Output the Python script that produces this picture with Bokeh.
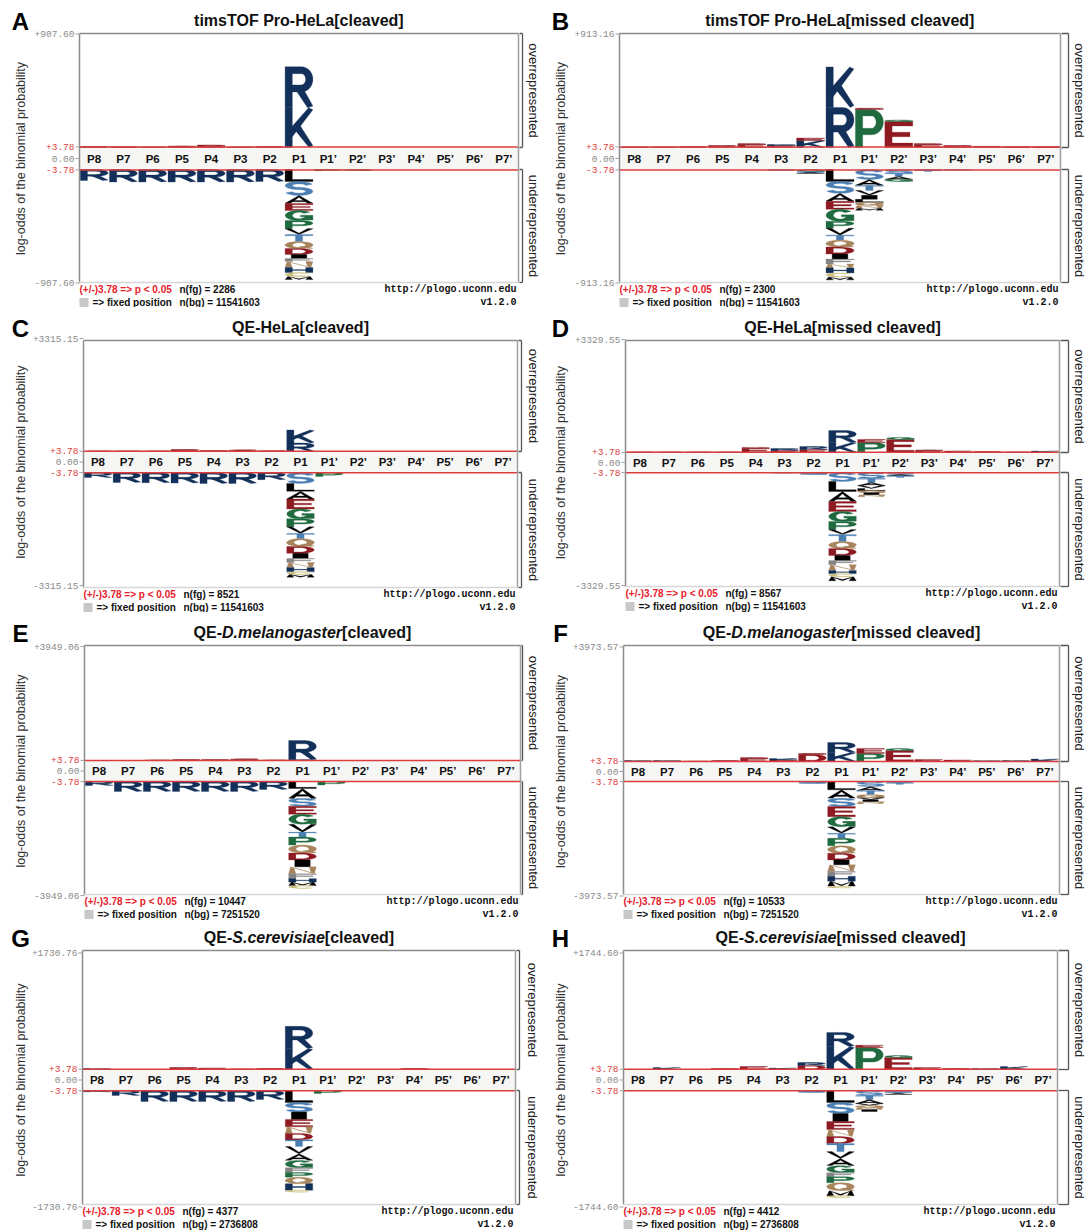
import numpy as np
from bokeh.plotting import figure
from bokeh.layouts import column, row
from bokeh.models import ColumnDataSource, Range1d
from bokeh.core.properties import value
from bokeh.embed import file_html
from bokeh.resources import INLINE

# ---------------------------------------------------------------- data
POS_KEYS = ["P8", "P7", "P6", "P5", "P4", "P3", "P2", "P1",
            "P1'", "P2'", "P3'", "P4'", "P5'", "P6'", "P7'"]
POS_LABELS = [k.replace("'", "\u2019") for k in POS_KEYS]

THRESHOLD = 3.78

Y_MAX = {"A": 907.60, "B": 913.16, "C": 3315.15, "D": 3329.55,
         "E": 3949.06, "F": 3973.57, "G": 1730.76, "H": 1744.60}
N_FG = {"A": 2286, "B": 2300, "C": 8521, "D": 8567,
        "E": 10447, "F": 10533, "G": 4377, "H": 4412}
N_BG = {"A": 11541603, "B": 11541603, "C": 11541603, "D": 11541603,
        "E": 7251520, "F": 7251520, "G": 2736808, "H": 2736808}

TITLES = {
    "A": [("timsTOF Pro-HeLa[cleaved]", "bold")],
    "B": [("timsTOF Pro-HeLa[missed cleaved]", "bold")],
    "C": [("QE-HeLa[cleaved]", "bold")],
    "D": [("QE-HeLa[missed cleaved]", "bold")],
    "E": [("QE-", "bold"), ("D.melanogaster", "bold italic"), ("[cleaved]", "bold")],
    "F": [("QE-", "bold"), ("D.melanogaster", "bold italic"), ("[missed cleaved]", "bold")],
    "G": [("QE-", "bold"), ("S.cerevisiae", "bold italic"), ("[cleaved]", "bold")],
    "H": [("QE-", "bold"), ("S.cerevisiae", "bold italic"), ("[missed cleaved]", "bold")],
}

# residue log-odds per position; over: stacked upward from the axis band,
# under: stacked downward from the axis band
A_OVER = {"P8": [("E", 8)], "P7": [("E", 6)], "P6": [("E", 4)], "P5": [("E", 8), ("D", 4)],
          "P4": [("E", 12), ("D", 8)], "P3": [("E", 4)], "P2": [("E", 8)],
          "P1": [("K", 318), ("R", 328)]}
A_UNDER = {"P8": [("R", 88)], "P7": [("R", 100)], "P6": [("R", 100)], "P5": [("R", 100)],
           "P4": [("R", 100)], "P3": [("R", 100)], "P2": [("R", 96)],
           "P1": [("L", 96), ("S", 112), ("A", 64), ("E", 56), ("G", 80), ("P", 64), ("V", 48),
                  ("T", 56), ("Q", 56), ("D", 48), ("I", 32), ("F", 24), ("N", 48), ("H", 40),
                  ("C", 32), ("M", 24)],
           "P1'": [("P", 10)], "P2'": [("G", 8)]}

B_OVER = {"P8": [("E", 4)], "P7": [("E", 4)], "P6": [("E", 8)], "P5": [("E", 12), ("D", 4)],
          "P4": [("E", 24), ("D", 8)], "P3": [("E", 16), ("K", 8)], "P2": [("K", 56), ("E", 20)],
          "P1": [("R", 322), ("K", 326)], "P1'": [("P", 306), ("E", 10)],
          "P2'": [("E", 209), ("G", 12)], "P3'": [("E", 24), ("D", 8)], "P4'": [("E", 12), ("D", 4)],
          "P5'": [("E", 10)], "P6'": [("E", 6)], "P7'": [("E", 6)]}
B_UNDER = {"P3": [("S", 8)], "P2": [("G", 16), ("S", 8), ("A", 8)],
           "P1": [("L", 96), ("S", 96), ("A", 64), ("E", 64), ("G", 96), ("P", 56), ("V", 56),
                  ("T", 40), ("Q", 56), ("D", 56), ("I", 40), ("F", 40), ("N", 32), ("H", 40),
                  ("C", 32), ("M", 24)],
           "P1'": [("S", 80), ("A", 48), ("T", 40), ("V", 40), ("I", 32), ("L", 24), ("Q", 24),
                   ("N", 24), ("M", 16)],
           "P2'": [("S", 32), ("T", 24), ("A", 24), ("G", 16)], "P3'": [("S", 8), ("T", 8)],
           "P4'": [("S", 4)]}

C_OVER = {"P8": [("E", 15)], "P7": [("E", 15)], "P6": [("E", 15)], "P5": [("E", 45), ("D", 15)],
          "P4": [("E", 30)], "P3": [("I", 30), ("E", 15)], "P2": [("E", 20)],
          "P1": [("R", 250), ("K", 380)]}
C_UNDER = {"P8": [("R", 150)], "P7": [("R", 290)], "P6": [("R", 300)], "P5": [("R", 310)],
           "P4": [("R", 320)], "P3": [("R", 320)], "P2": [("R", 210)],
           "P1": [("S", 320), ("L", 230), ("A", 230), ("E", 290), ("G", 290), ("P", 230),
                  ("V", 200), ("T", 150), ("Q", 230), ("D", 200), ("I", 150), ("F", 120),
                  ("N", 150), ("H", 120), ("C", 80), ("M", 80)],
           "P1'": [("P", 120)]}

D_OVER = {"P8": [("E", 15)], "P7": [("E", 15)], "P6": [("E", 15)], "P5": [("E", 15)],
          "P4": [("E", 120), ("D", 30)], "P3": [("E", 60), ("R", 60)], "P2": [("E", 90), ("R", 90)],
          "P1": [("K", 295), ("R", 355)], "P1'": [("P", 295), ("E", 90)],
          "P2'": [("E", 385), ("G", 60)], "P3'": [("E", 60), ("D", 15)], "P4'": [("E", 45)],
          "P5'": [("E", 30)], "P6'": [("E", 15)], "P7'": [("K", 45)]}
D_UNDER = {"P3": [("S", 15)], "P2": [("G", 30), ("S", 30)],
           "P1": [("S", 265), ("L", 295), ("A", 295), ("E", 295), ("G", 295), ("P", 235),
                  ("V", 150), ("T", 205), ("Q", 205), ("D", 205), ("I", 150), ("F", 120),
                  ("N", 175), ("H", 90), ("C", 90), ("M", 120)],
           "P1'": [("S", 175), ("T", 120), ("A", 90), ("V", 90), ("L", 60), ("Q", 60),
                   ("I", 60), ("N", 60)],
           "P2'": [("S", 60), ("A", 45), ("T", 45)]}

E_OVER = {"P6": [("E", 15)], "P5": [("E", 35)], "P4": [("E", 35)], "P3": [("F", 35), ("E", 20)],
          "P2": [("E", 15)], "P1": [("K", 35), ("R", 655)]}
E_UNDER = {"P8": [("R", 140)], "P7": [("R", 345)], "P6": [("R", 345)], "P5": [("R", 345)],
           "P4": [("R", 345)], "P3": [("R", 345)], "P2": [("R", 275)],
           "P1": [("L", 240), ("A", 345), ("S", 275), ("E", 275), ("G", 345), ("V", 275),
                  ("T", 170), ("P", 275), ("Q", 275), ("D", 240), ("I", 240), ("N", 240),
                  ("F", 170), ("H", 120), ("M", 120), ("C", 100)],
           "P1'": [("P", 120)]}

F_OVER = {"P8": [("K", 35)], "P7": [("K", 35)], "P6": [("E", 10)], "P5": [("E", 35)],
          "P4": [("E", 105), ("D", 35)], "P3": [("E", 50), ("K", 50)], "P2": [("D", 245), ("E", 35)],
          "P1": [("K", 310), ("R", 350)], "P1'": [("P", 280), ("E", 175)],
          "P2'": [("E", 380), ("G", 70)], "P3'": [("E", 70)], "P4'": [("E", 50)],
          "P5'": [("K", 30)], "P6'": [("K", 35)], "P7'": [("K", 85)]}
F_UNDER = {"P2": [("G", 35), ("S", 35)],
           "P1": [("L", 290), ("A", 290), ("S", 290), ("E", 350), ("G", 350), ("V", 230),
                  ("T", 170), ("P", 260), ("Q", 260), ("D", 230), ("I", 170), ("N", 230),
                  ("F", 170), ("H", 170), ("M", 170), ("C", 70)],
           "P1'": [("S", 175), ("A", 140), ("T", 140), ("Q", 105), ("V", 70), ("I", 70), ("N", 70)],
           "P2'": [("S", 50), ("T", 50)]}

G_OVER = {"P8": [("K", 15)], "P5": [("E", 22), ("D", 8)], "P4": [("E", 22)], "P3": [("E", 8)],
          "P2": [("E", 15)], "P1": [("K", 313), ("R", 328)], "P4'": [("E", 15)]}
G_UNDER = {"P8": [("R", 20)], "P7": [("R", 75)], "P6": [("R", 164)], "P5": [("R", 164)],
           "P4": [("R", 164)], "P3": [("R", 164)], "P2": [("R", 134)],
           "P1": [("L", 180), ("S", 140), ("I", 110), ("E", 110), ("N", 97), ("D", 97), ("T", 97),
                  ("V", 110), ("A", 97), ("G", 110), ("F", 70), ("P", 70), ("Q", 97), ("H", 97),
                  ("C", 28)],
           "P1'": [("P", 45)]}

H_OVER = {"P7": [("K", 30)], "P5": [("E", 15)], "P4": [("E", 45)], "P3": [("K", 22)],
          "P2": [("D", 60), ("R", 45)], "P1": [("K", 345), ("R", 210)],
          "P1'": [("P", 330), ("E", 35)], "P2'": [("E", 180), ("G", 30)], "P3'": [("E", 30)],
          "P4'": [("E", 15)], "P5'": [("K", 15)], "P6'": [("K", 45)]}
H_UNDER = {"P2": [("G", 15), ("S", 15)],
           "P1": [("L", 180), ("S", 165), ("I", 120), ("E", 120), ("N", 105), ("D", 105),
                  ("T", 120), ("V", 105), ("A", 105), ("G", 105), ("F", 60), ("P", 90),
                  ("Q", 120), ("M", 75), ("C", 30)],
           "P1'": [("S", 75), ("T", 60), ("A", 60), ("V", 30), ("Q", 30), ("N", 30), ("I", 30)],
           "P2'": [("S", 30), ("T", 15), ("A", 15)]}

OVER = {"A": A_OVER, "B": B_OVER, "C": C_OVER, "D": D_OVER,
        "E": E_OVER, "F": F_OVER, "G": G_OVER, "H": H_OVER}
UNDER = {"A": A_UNDER, "B": B_UNDER, "C": C_UNDER, "D": D_UNDER,
         "E": E_UNDER, "F": F_UNDER, "G": G_UNDER, "H": H_UNDER}

AA_COLORS = {
    "K": "#12305a", "R": "#12305a", "H": "#12305a",
    "D": "#8e1a22", "E": "#8e1a22",
    "S": "#4b7fb3", "T": "#4b7fb3",
    "G": "#1f6b3f", "P": "#1f6b3f",
    "N": "#a8845c", "Q": "#a8845c",
    "A": "#000000", "V": "#000000", "L": "#000000", "I": "#000000",
    "M": "#000000", "W": "#000000",
    "F": "#858585", "Y": "#858585",
    "C": "#cbbf7c",
}

# ---------------------------------------------------------------- page layout (pixels)
ROWS = [(0, 307), (307, 305), (612, 308), (920, 311)]
COLS = [(0, 540), (540, 547)]
GRID = [["A", "B"], ["C", "D"], ["E", "F"], ["G", "H"]]
GEOM = {
    "A": dict(L=79, R=518, T=33, B=282, l1=147, l2=169, bx=522, tx=533),
    "B": dict(L=619, R=1060, T=33, B=282, l1=147, l2=169, bx=1068, tx=1079),
    "C": dict(L=83, R=517, T=340, B=587, l1=451, l2=472, bx=521, tx=533),
    "D": dict(L=625, R=1059, T=340, B=586, l1=452, l2=472, bx=1068, tx=1079),
    "E": dict(L=84, R=520, T=645, B=894, l1=760, l2=781, bx=522, tx=533),
    "F": dict(L=623, R=1059, T=645, B=894, l1=761, l2=781, bx=1068, tx=1079),
    "G": dict(L=82, R=515, T=950, B=1204, l1=1069, l2=1090, bx=519, tx=532),
    "H": dict(L=623, R=1057, T=950, B=1204, l1=1069, l2=1090, bx=1068, tx=1079),
}

SANS = "Liberation Sans"
MONO = "Liberation Mono"

# ---------------------------------------------------------------- residue glyph outlines
TW, TH = 0.13, 0.085   # half stroke width / height inside a unit letter box
a, b = TW, TH


def _arc(cx, cy, rx, ry, a0, a1, n=16):
    t = np.radians(np.linspace(a0, a1, n))
    return [(cx + rx * np.cos(v), cy + ry * np.sin(v)) for v in t]


def _bowl(ybot):
    cy = (1 - b + ybot) / 2
    ry = (1 - b - ybot) / 2
    return [(a, 0), (a, 1 - b), (0.58, 1 - b)] + _arc(0.58, cy, 1 - a - 0.58, ry, 90, -90) + [(a, ybot)]


_cy1 = (1 - b + 0.5) / 2
_cy2 = (0.5 + b) / 2
_ry = (0.5 - b) / 2
_ring = [_arc(0.5, 0.5, 0.5 - a, 0.5 - b, 0, 200), _arc(0.5, 0.5, 0.5 - a, 0.5 - b, 180, 380)]

STROKES = {
    "A": [[(0.06, 0), (0.5, 1 - b * 0.6), (0.94, 0)], [(0.28, 0.3), (0.72, 0.3)]],
    "C": [_arc(0.5, 0.5, 0.5 - a, 0.5 - b, 45, 315)],
    "D": [[(0.4, b), (a, b), (a, 1 - b), (0.5, 1 - b)]
          + _arc(0.5, 0.5, 0.5 - a, 0.5 - b, 90, -90) + [(0.35, b)]],
    "E": [[(1, 1 - b), (a, 1 - b), (a, b), (1, b)], [(a, 0.5), (0.9, 0.5)]],
    "F": [[(1, 1 - b), (a, 1 - b), (a, 0)], [(a, 0.5), (0.88, 0.5)]],
    "G": [_arc(0.5, 0.5, 0.5 - a, 0.5 - b, 40, 345), [(0.55, 0.45), (1 - a, 0.45), (1 - a, 0.04)]],
    "H": [[(a, 0), (a, 1)], [(1 - a, 0), (1 - a, 1)], [(a, 0.5), (1 - a, 0.5)]],
    "K": [[(a, 0), (a, 1)], [(0.95, 1), (a, 0.3)], [(0.38, 0.56), (0.97, 0)]],
    "L": [[(a, 1), (a, b), (1, b)]],
    "M": [[(a, 0), (a, 1), (0.5, 0.12), (1 - a, 1), (1 - a, 0)]],
    "N": [[(a, 0), (a, 1), (1 - a, 0), (1 - a, 1)]],
    "P": [_bowl(0.42)],
    "Q": _ring + [[(0.6, 0.3), (0.97, 0.0)]],
    "R": [_bowl(0.47), [(0.5, 0.47), (1 - a * 0.6, 0)]],
    "S": [_arc(0.5, _cy1, 0.5 - a, _ry, 15, 270) + _arc(0.5, _cy2, 0.5 - a, _ry, 90, -165)],
    "T": [[(0, 1 - b), (1, 1 - b)], [(0.5, 1 - b), (0.5, 0)]],
    "V": [[(0.06, 1), (0.5, b * 0.6), (0.94, 1)]],
    "W": [[(0.03, 1), (0.26, 0.02), (0.5, 0.8), (0.74, 0.02), (0.97, 1)]],
    "Y": [[(0.06, 1), (0.5, 0.48), (0.94, 1)], [(0.5, 0.5), (0.5, 0)]],
}
FILLS = {"I": [[(0.22, 0), (0.78, 0), (0.78, 1), (0.22, 1)]]}


def _thicken(pts):
    P = [pts[0]]
    for q in pts[1:]:
        if abs(q[0] - P[-1][0]) + abs(q[1] - P[-1][1]) > 1e-6:
            P.append(q)
    P = np.asarray(P, float) / (TW, TH)
    d = np.diff(P, axis=0)
    d /= np.linalg.norm(d, axis=1)[:, None]
    nrm = np.column_stack([-d[:, 1], d[:, 0]])
    offs = np.empty_like(P)
    offs[0], offs[-1] = nrm[0], nrm[-1]
    for i in range(1, len(P) - 1):
        m = nrm[i - 1] + nrm[i]
        ln = np.linalg.norm(m)
        m = nrm[i] if ln < 1e-9 else m / ln
        offs[i] = m / max(float(np.dot(m, nrm[i])), 0.5)
    poly = np.vstack([P + offs, (P - offs)[::-1]]) * (TW, TH)
    return np.clip(poly, 0.0, 1.0)


UNIT_POLYS = {ch: [_thicken(s) for s in strokes] for ch, strokes in STROKES.items()}
for ch, polys in FILLS.items():
    UNIT_POLYS[ch] = [np.asarray(pp, float) for pp in polys]

# Arial Bold advance widths (1/1000 em), used to lay out mixed-style titles
ARIAL_BOLD = dict(zip(" ()-.[]", [278, 333, 333, 333, 278, 333, 333]))
ARIAL_BOLD.update(dict(zip("ABCDEFGHILMNOPQRST",
                           [722, 722, 722, 722, 667, 611, 778, 722, 278, 611, 833, 722, 778, 667, 778, 722, 667, 611])))
ARIAL_BOLD.update(dict(zip("abcdefghiklmnoprstuvy",
                           [556, 611, 556, 611, 556, 333, 611, 611, 278, 556, 278, 889, 611, 611, 611, 389, 556, 333, 611, 556, 556])))


def text_width(s, size):
    return sum(ARIAL_BOLD.get(ch, 556) for ch in s) * size / 1000.0


def put(p, x, y, s, size, color="#000000", style="normal", font=SANS,
        align="left", baseline="middle", angle=0.0):
    p.text(x=[x], y=[y], text=[s], text_font=value(font), text_font_size=value(f"{size}px"),
           text_font_style=style, text_color=color, text_align=align,
           text_baseline=baseline, angle=angle)


def make_panel(key, ci, ri):
    x0, W = COLS[ci]
    y0, Hh = ROWS[ri]
    g = GEOM[key]
    L, R, T, B, l1, l2 = g["L"], g["R"], g["T"], g["B"], g["l1"], g["l2"]
    ymax = Y_MAX[key]
    npos = len(POS_KEYS)
    colw = (R - L) / npos
    k = ((l1 - T) + (B - l2)) / (2.0 * ymax)     # pixels per log-odds unit
    c = (l1 + l2) / 2.0

    def X(px):
        return -0.5 + (px - L) / colw

    def Y(py):
        return (c - py) / k

    gap = (l2 - l1) / 2.0 / k

    p = figure(width=W, height=Hh, x_range=Range1d(X(x0), X(x0 + W)),
               y_range=Range1d(Y(y0 + Hh), Y(y0)), x_axis_type=None, y_axis_type=None,
               toolbar_location=None, output_backend="svg", min_border=0,
               outline_line_color=None, background_fill_color="white",
               border_fill_color="white")

    # axis band holding the position labels
    p.quad(left=[-0.5], right=[npos - 0.5], bottom=[-gap], top=[gap],
           fill_color="#f6f6f4", line_color=None)

    # stacked residue letters
    xs, ys, cols = [], [], []
    pad = 0.025
    for data, sign in ((OVER[key], 1), (UNDER[key], -1)):
        for pos, items in data.items():
            i = POS_KEYS.index(pos)
            xl = i - 0.5 + pad
            wd = 1 - 2 * pad
            base = gap
            for aa, v in items:
                lo = base if sign > 0 else -(base + v)
                base += v
                for poly in UNIT_POLYS[aa]:
                    xs.append(list(xl + poly[:, 0] * wd))
                    ys.append(list(lo + poly[:, 1] * v))
                    cols.append(AA_COLORS.get(aa, "#000000"))
    src = ColumnDataSource(dict(xs=xs, ys=ys, c=cols))
    p.patches("xs", "ys", source=src, fill_color="c", line_color="c", line_width=0.3)

    # significance lines
    sig = gap + THRESHOLD
    p.segment(x0=[-0.5, -0.5], x1=[npos - 0.5, npos - 0.5], y0=[sig, -sig], y1=[sig, -sig],
              line_color="#dc3c3c", line_width=1.5)

    # plot box
    p.segment(x0=[X(L), X(L)], y0=[Y(T), Y(T)], x1=[X(R), X(L)], y1=[Y(T), Y(B)],
              line_color="#8c8c8c", line_width=1.5)
    p.segment(x0=[X(R)], y0=[Y(T)], x1=[X(R)], y1=[Y(B)], line_color="#a0a0a0", line_width=1.5)
    p.segment(x0=[X(L)], y0=[Y(B)], x1=[X(R)], y1=[Y(B)], line_color="#d6d6d6", line_width=1.5)

    # y ticks and labels
    top = gap + ymax
    tick_vals = [top, sig, 0.0, -sig, -top]
    tick_txt = [f"+{ymax:.2f}", f"+{THRESHOLD:.2f}", "0.00", f"-{THRESHOLD:.2f}", f"-{ymax:.2f}"]
    tick_col = ["#8a8a8a", "#dc3c3c", "#8a8a8a", "#dc3c3c", "#8a8a8a"]
    p.segment(x0=[X(L - 4)] * 5, x1=[X(L)] * 5, y0=tick_vals, y1=tick_vals,
              line_color="#a0a0a0", line_width=1)
    p.text(x=[X(L - 5)] * 5, y=tick_vals, text=tick_txt, text_color=tick_col,
           text_font=value(MONO), text_font_size=value("9.5px"),
           text_align="right", text_baseline="middle")

    # position labels
    p.text(x=list(range(npos)), y=[0.0] * npos, text=POS_LABELS, text_font=value(SANS),
           text_font_size=value("11.5px"), text_font_style="bold", text_color="#111111",
           text_align="center", text_baseline="middle")

    # brackets on the right
    bx = g["bx"]
    p.segment(x0=[X(bx), X(R + 1), X(R + 1), X(bx), X(R + 1), X(R + 1)],
              y0=[Y(T), Y(T), Y(l1), Y(l2), Y(l2), Y(B)],
              x1=[X(bx), X(bx), X(bx), X(bx), X(bx), X(bx)],
              y1=[Y(l1), Y(T), Y(l1), Y(B), Y(l2), Y(B)],
              line_color="#555555", line_width=1.3)
    put(p, X(g["tx"]), Y((T + l1) / 2), "overrepresented", 13, "#222222",
        align="center", angle=-np.pi / 2)
    put(p, X(g["tx"]), Y((l2 + B) / 2), "underrepresented", 13, "#222222",
        align="center", angle=-np.pi / 2)

    # y-axis title
    put(p, X(x0 + 20), Y(c), "log-odds of the binomial probability", 12.5, "#333333",
        align="center", angle=np.pi / 2)

    # panel tag and title
    put(p, X(x0 + 20), Y(T - 12), key, 24, "#000000", style="bold", align="center")
    pieces = TITLES[key]
    tsize = 16
    total = sum(text_width(s, tsize) for s, _ in pieces)
    cursor = (L + R) / 2 - total / 2
    for s, st in pieces:
        put(p, X(cursor), Y(T - 13), s, tsize, "#111111", style=st)
        cursor += text_width(s, tsize)

    # footer
    f1, f2 = B + 7, B + 20
    put(p, X(L), Y(f1), f"(+/-){THRESHOLD:.2f} => p < 0.05", 10, "#e8202a", style="bold")
    put(p, X(L + 100), Y(f1), f"n(fg) = {N_FG[key]}", 10, "#111111", style="bold")
    put(p, X(R - 2), Y(f1), "http://plogo.uconn.edu", 10, "#111111", style="bold",
        font=MONO, align="right")
    p.quad(left=[X(L)], right=[X(L + 9)], bottom=[Y(f2 + 4.5)], top=[Y(f2 - 4.5)],
           fill_color="#c8c8c8", line_color=None)
    put(p, X(L + 13), Y(f2), "=> fixed position", 10, "#111111", style="bold")
    put(p, X(L + 100), Y(f2), f"n(bg) = {N_BG[key]}", 10, "#111111", style="bold")
    put(p, X(R - 2), Y(f2), "v1.2.0", 10, "#111111", style="bold", font=MONO, align="right")
    return p


rows = []
for ri, keys in enumerate(GRID):
    rows.append(row(*[make_panel(kk, ci, ri) for ci, kk in enumerate(keys)]))
page = column(*rows)

open("out.html", "w").write(file_html(page, INLINE, title="pLogo cleavage sites"))
